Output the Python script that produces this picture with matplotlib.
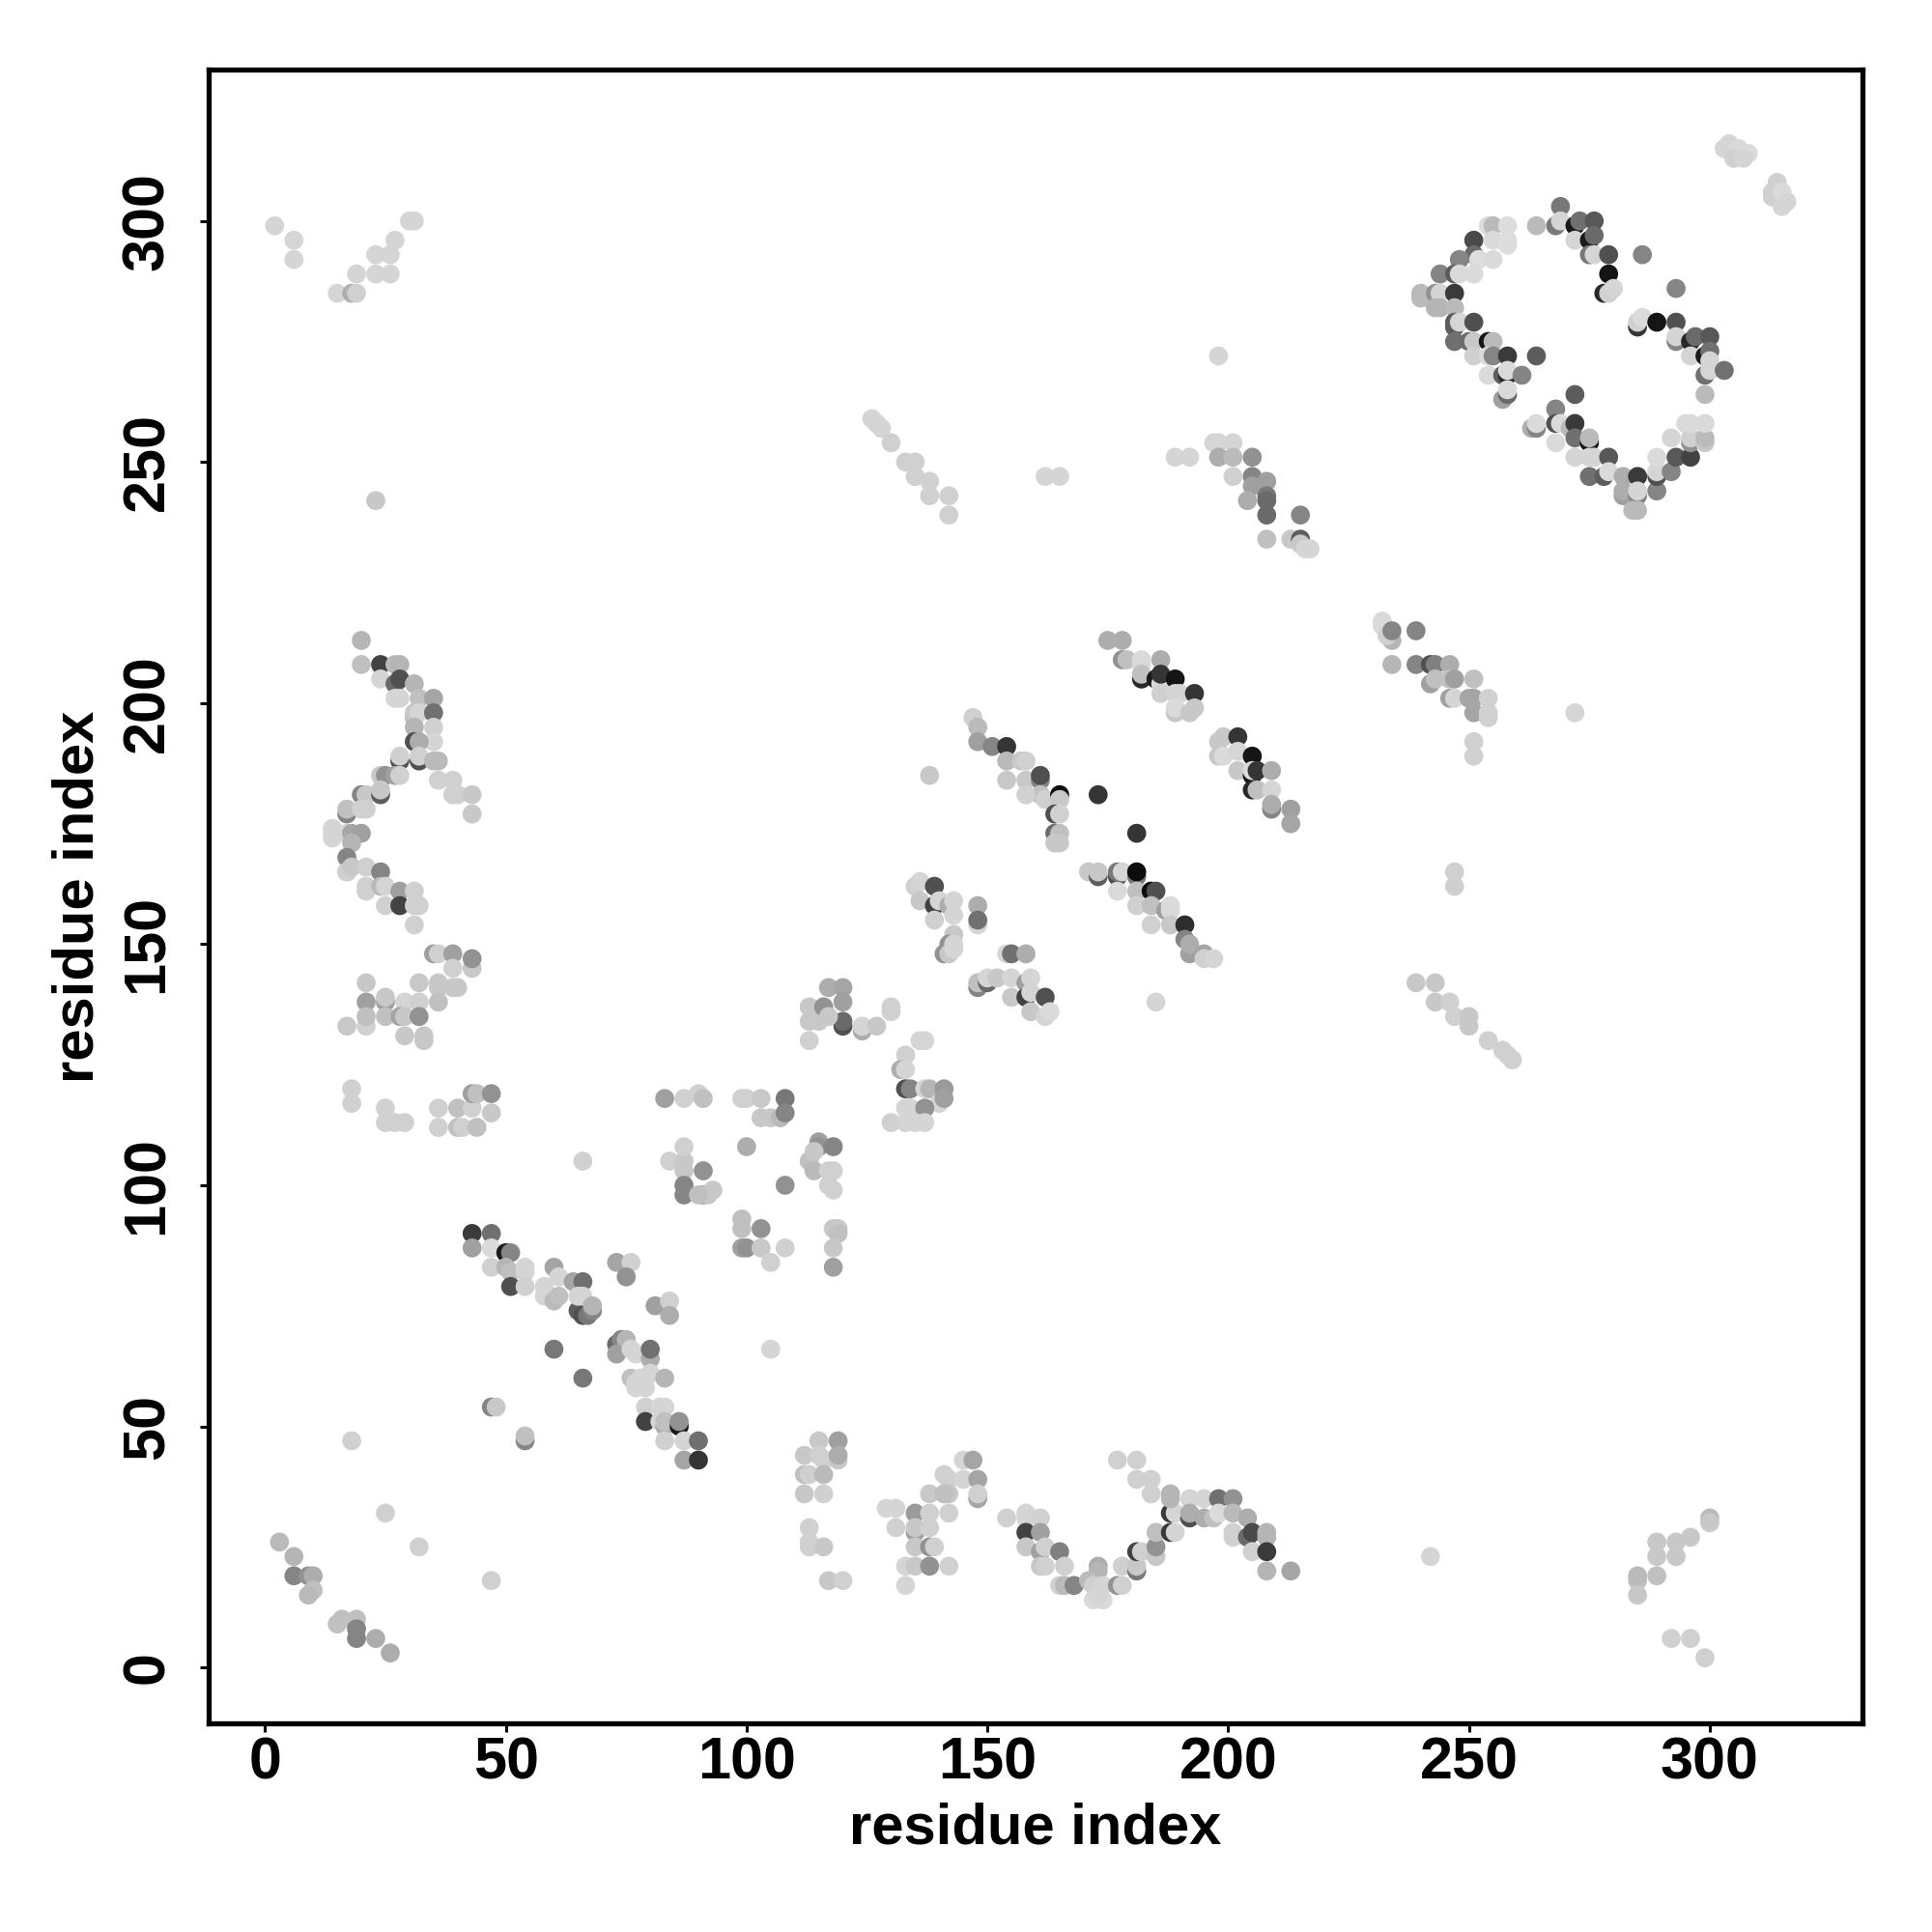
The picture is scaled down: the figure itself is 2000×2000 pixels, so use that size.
import matplotlib
matplotlib.use("Agg")
import matplotlib.pyplot as plt

plt.rcParams['font.family'] = ['Liberation Sans', 'DejaVu Sans']

# each point: residue i, residue j, grey level (0 black, 1 white)
corner = [(303,315,.8),(304,316,.8),(306,315,.82),(305,313,.78),(308,314,.82),(307,313,.8),
          (314,308,.78),(313,306,.78),(313,305,.78),(315,306,.82),(316,304,.8),(315,303,.8)]

ring_top = [(269,303,.45),(264,299,.7),(268,299,.45),(269,300,.8),(272,299,.1),(273,300,.42),(276,300,.33),
            (272,296,.8),(275,296,.1),(276,297,.4),(275,293,.45),(276,293,.8),(279,293,.3),(286,293,.5),
            (279,289,.08),(278,285,.15),(279,285,.78),(280,286,.8),(293,286,.5)]

ring_right = [(285,278,.2),(285,279,.78),(286,280,.82),(289,279,.08),(293,279,.3),(293,275,.5),(293,276,.8),
              (296,275,.15),(297,276,.4),(300,276,.33),(296,272,.8),(299,272,.1),(300,273,.42),(299,268,.42),
              (300,271,.8),(300,269,.8),(303,269,.42),(299,264,.7)]

ring_left = [(254,299,.83),(255,299,.7),(258,299,.83),(251,296,.28),(255,296,.82),(258,295,.83),(258,296,.83),
             (251,293,.4),(248,292,.5),(252,292,.83),(255,292,.82),(244,289,.5),(247,289,.35),(248,289,.82),
             (251,289,.82),(240,285,.7),(240,284,.7),(243,285,.55),(244,285,.8),(247,285,.22),(243,282,.68),
             (244,282,.68),(247,282,.7),(247,279,.35),(247,278,.35),(248,279,.8),(251,279,.3),(247,275,.42),
             (250,275,.4),(251,275,.75),(254,275,.08),(255,275,.7),(251,272,.78),(254,272,.82),(255,272,.5),
             (258,272,.22),(264,272,.35),(254,268,.82),(257,268,.35),(258,268,.15),(258,269,.82),(261,268,.5),
             (257,263,.6),(258,264,.4),(258,265,.82)]

ring_bottom = [(272,264,.35),(268,261,.5),(263,257,.65),(264,257,.5),(264,258,.82),(268,258,.3),(269,258,.82),
               (271,257,.7),(272,258,.22),(268,254,.82),(272,255,.42),(275,254,.08),(275,255,.7),(272,251,.8),
               (275,251,.8),(276,251,.8),(279,251,.33),(275,247,.42),(278,247,.35),(279,248,.82),(282,247,.65),
               (285,247,.22),(282,243,.6),(282,244,.65),(285,243,.5),(285,244,.8),(289,244,.5),(284,240,.7),
               (285,240,.7),(289,247,.3),(289,248,.8),(292,248,.5),(289,251,.82),(293,251,.33),(296,251,.25),
               (292,255,.8),(296,254,.55),(296,255,.78),(299,254,.75),(299,255,.7),(295,258,.82),(296,258,.82),
               (299,258,.82)]

diag_a = [(175,213,.65),(178,213,.65),(178,209,.55),(179,209,.72),(182,209,.82),(186,209,.65),(182,208,.82),
          (182,205,.15),(182,206,.72),(185,205,.1),(186,204,.82),(186,206,.2),(189,205,.08),(186,202,.78),
          (189,202,.8),(190,202,.8),(193,202,.2),(189,198,.75),(189,199,.82),(192,198,.75),(193,199,.75)]

diag_b = [(199,193,.75),(198,192,.75),(202,193,.2),(198,189,.75),(199,189,.82),(202,190,.8),(205,189,.08),
          (202,186,.75),(205,185,.08),(205,186,.82),(206,186,.2),(209,186,.65),(205,182,.15),(206,182,.72),
          (209,182,.8),(209,178,.5),(209,179,.65),(213,178,.6),(213,175,.62)]

diag_c = [(147,197,.78),(148,195,.7),(148,192,.6),(151,191,.5),(154,191,.2),(154,188,.7),(157,188,.75),
          (158,188,.78),(154,184,.75),(158,184,.75),(161,184,.5),(161,185,.3),(161,181,.72),(158,181,.78),
          (162,180,.78),(165,181,.05),(165,180,.75),(164,177,.3),(165,177,.78),(164,173,.4),(165,173,.72),
          (164,171,.75),(165,171,.75),(173,181,.2),(181,173,.2),(138,185,.75)]

diag_d = [(171,165,.75),(173,164,.35),(173,165,.75),(177,164,.3),(177,165,.45),(178,165,.8),(181,164,.45),
          (181,165,.05),(177,161,.82),(181,161,.72),(184,161,.05),(185,161,.3),(181,158,.78),(184,158,.72),
          (187,157,.6),(188,158,.82),(188,157,.82),(184,154,.78),(188,154,.75),(191,154,.17),(191,151,.5),
          (192,148,.6),(192,150,.65),(195,148,.62),(195,147,.78),(197,147,.8),(185,138,.8)]

upper_right = [(232,217,.82),(232,216,.82),(234,213,.68),(233,214,.78),(234,215,.5),(239,215,.5),(234,208,.68),
               (239,208,.5),(242,208,.3),(243,208,.48),(246,208,.65),(242,204,.6),(243,205,.72),(246,205,.72),
               (247,205,.6),(251,205,.72),(246,201,.6),(247,201,.8),(250,201,.62),(251,201,.62),(254,201,.78),
               (251,198,.62),(254,198,.78),(254,197,.78),(251,192,.78),(251,189,.78),(272,198,.8),
               (247,165,.78),(247,162,.78),(239,142,.75),(243,142,.75),(243,138,.75),(246,138,.78),(247,135,.78),
               (250,135,.75),(250,133,.75),(254,130,.78),(257,128,.78),(258,127,.78),(259,126,.78)]

upper_mid = [(198,272,.8),(189,251,.8),(192,251,.8),(197,254,.8),(198,254,.8),(201,254,.8),(198,251,.65),
             (201,251,.7),(205,251,.55),(201,247,.78),(205,247,.5),(205,245,.6),(208,246,.6),(204,242,.65),
             (208,243,.45),(208,242,.4),(208,239,.4),(215,239,.5),(208,234,.72),(213,234,.75),(215,234,.35),
             (215,233,.75),(217,232,.8),(216,232,.8),(162,247,.8),(165,247,.8)]

upper_line = [(126,259,.8),(127,258,.8),(128,257,.8),(130,254,.78),(133,250,.78),(135,250,.78),(135,247,.78),
              (138,246,.78),(138,243,.78),(142,243,.78),(142,239,.78)]

upper_left = [(2,299,.8),(6,296,.8),(6,292,.8),(15,285,.8),(18,285,.65),(19,285,.78),(19,289,.8),(23,293,.8),
              (23,289,.8),(26,293,.8),(26,289,.8),(27,296,.8),(30,300,.8),(31,300,.8),(23,242,.75)]

helix = [(20,213,.68),(20,208,.72),(24,208,.25),(27,208,.7),(28,208,.68),(24,205,.8),(27,204,.4),(28,205,.3),
         (31,204,.68),(27,201,.8),(28,201,.8),(32,201,.72),(35,201,.62),(31,197,.7),(31,198,.75),(32,198,.8),
         (35,198,.42),(35,195,.78),(31,195,.68),(35,192,.8),(31,192,.3),(32,192,.65),(28,188,.3),(28,189,.78),
         (32,188,.3),(32,189,.78),(35,188,.7),(36,188,.7),(36,184,.78),(39,184,.78),(39,181,.78),(40,181,.78),
         (43,181,.75),(43,177,.75),(24,185,.75),(25,185,.55),(27,185,.6),(28,185,.78),(20,181,.5),(21,181,.75),
         (24,181,.35),(24,182,.75),(17,177,.5),(17,178,.72),(21,178,.78),(20,178,.78),(14,174,.8),(14,173,.8),
         (14,172,.8),(17,173,.8),(18,173,.62),(20,173,.6),(18,171,.68),(17,168,.5),(17,165,.7),(17,165,.78),
         (18,166,.75),(21,166,.78),(24,165,.5),(21,162,.78),(21,161,.78),(24,162,.7),(25,162,.8),(28,161,.6),
         (31,161,.78),(25,158,.78),(28,158,.25),(31,158,.78),(32,158,.78),(31,154,.78)]

left_low = [(35,148,.6),(36,148,.78),(39,148,.6),(43,145,.75),(43,147,.55),(39,145,.78),(36,142,.75),(32,142,.75),
            (39,141,.75),(40,141,.75),(36,141,.75),(36,138,.72),(21,142,.75),(21,138,.6),(25,138,.6),(25,139,.75),
            (29,138,.8),(32,138,.78),(21,133,.78),(21,135,.72),(25,135,.72),(28,135,.62),(29,135,.75),(32,135,.55),
            (17,133,.75),(29,131,.75),(33,131,.75),(33,130,.75),
            (18,120,.78),(18,117,.78),(25,116,.78),(25,113,.78),(27,113,.78),(29,113,.78),(36,116,.78),(36,112,.78),
            (40,116,.72),(40,112,.72),(41,112,.78),(43,116,.78),(44,112,.72),(43,119,.6),(44,119,.72),(47,119,.55),
            (47,115,.75)]

corner_low = [(3,26,.7),(6,23,.68),(6,19,.5),(9,19,.55),(10,19,.65),(10,16,.72),(9,15,.7),(15,9,.72),(16,10,.72),
              (19,10,.72),(19,8,.5),(19,6,.5),(23,6,.65),(26,3,.65),(18,47,.78),(25,32,.78),(32,25,.78),(47,18,.78)]

anti_a = [(43,90,.22),(47,90,.42),(43,87,.6),(47,87,.82),(50,86,.1),(51,86,.5),(47,83,.78),(50,83,.68),(51,82,.72),
          (54,83,.8),(54,82,.8),(51,79,.3),(54,79,.78),(60,83,.62),(61,81,.8),(58,79,.8),(58,77,.8),(60,76,.7),
          (61,77,.72),(64,80,.62),(66,80,.42),(65,74,.35),(66,73,.3),(67,73,.45),(65,77,.8),(66,77,.8),(68,74,.5),
          (68,75,.68),(73,84,.62),(76,84,.78),(75,81,.55),(81,75,.6),(84,76,.78),(84,73,.65),(60,66,.45),(66,60,.45)]

anti_b = [(73,67,.4),(74,68,.5),(75,68,.68),(73,65,.6),(76,66,.8),(77,65,.8),(80,64,.65),(80,66,.42),(76,60,.72),
          (77,59,.8),(78,60,.8),(80,61,.8),(83,60,.68),(77,58,.8),(79,58,.8),(79,54,.78),(82,54,.8),(83,54,.8),
          (79,51,.25),(82,51,.8),(83,50,.65),(83,51,.72),(86,50,.1),(86,51,.55),(83,47,.78),(87,47,.8),(90,47,.42),
          (87,43,.62),(90,43,.2),(47,54,.5),(48,54,.75),(54,47,.5),(54,48,.72)]

mid_a = [(135,162,.78),(136,163,.8),(139,162,.3),(136,159,.75),(139,158,.25),(140,159,.8),(142,158,.65),(143,159,.8),
         (143,156,.8),(139,155,.78),(143,152,.75),(142,150,.55),(141,148,.55),(142,148,.75),(143,149,.8),(143,150,.8),
         (148,158,.65),(148,154,.8),(148,155,.42),(154,148,.8),(155,148,.42),(158,148,.65),(148,141,.5),(148,142,.72),
         (150,142,.4),(150,143,.8),(152,143,.75),(155,143,.8),(158,142,.6),(159,143,.8),(155,139,.75),(158,139,.25),
         (159,140,.8),(162,139,.3),(159,136,.75),(162,135,.8),(163,136,.82)]

mid_b = [(130,137,.78),(130,136,.78),(124,132,.65),(124,133,.8),(127,133,.75),(136,130,.8),(137,130,.8),(133,127,.78),
         (132,124,.65),(133,124,.8),(133,120,.3),(134,120,.5),(137,120,.8),(138,120,.68),(141,120,.58),(140,117,.8),
         (141,118,.6),(133,116,.8),(134,116,.8),(137,116,.55),(130,113,.78),(133,113,.8),(135,113,.8),(137,113,.8),
         (113,130,.78),(113,134,.75),(113,137,.75),(115,134,.75),(116,137,.55),(117,141,.65),(120,141,.62),(120,138,.6),
         (120,133,.3),(120,134,.4),(117,135,.75)]

mid_c = [(83,118,.6),(87,118,.78),(90,119,.78),(91,118,.72),(84,105,.78),(87,105,.75),(87,108,.78),(87,103,.75),
         (91,103,.55),(87,100,.5),(87,98,.5),(91,98,.55),(93,99,.75),(92,98,.75),(90,98,.72),(66,105,.78),
         (99,118,.78),(100,118,.78),(103,118,.75),(103,114,.75),(105,114,.75),(108,118,.45),(107,114,.7),(108,115,.5),
         (100,108,.65),(108,100,.55),(99,93,.72),(99,91,.72),(99,87,.6),(100,87,.55),(103,91,.55),(103,87,.75),
         (105,84,.78),(108,87,.78),(105,66,.8),(113,105,.72),(114,103,.7),(115,109,.6),(115,108,.55),(118,108,.5),
         (114,107,.75),(117,103,.78),(118,103,.78),(117,100,.78),(118,99,.78),(118,91,.75),(119,91,.75),(119,90,.72),
         (118,87,.75),(118,83,.6)]

low_a = [(115,47,.75),(119,47,.6),(112,44,.75),(115,44,.78),(116,43,.78),(119,43,.75),(119,44,.65),(112,40,.72),
         (113,40,.78),(116,40,.7),(112,36,.75),(116,36,.78),(113,29,.78),(113,26,.78),(113,25,.78),(116,25,.75),
         (117,18,.75),(120,18,.78)]

low_b = [(145,43,.8),(147,43,.62),(141,40,.78),(142,39,.78),(145,39,.8),(148,39,.62),(148,35,.62),(148,36,.78),
         (138,36,.75),(142,36,.75),(141,36,.72),(129,33,.8),(131,33,.8),(131,29,.78),(135,32,.58),(138,32,.78),
         (142,32,.78),(135,28,.6),(135,29,.75),(138,29,.78),(135,25,.75),(138,25,.55),(139,25,.78),(133,21,.8),
         (135,21,.75),(138,21,.55),(142,21,.78),(133,17,.8)]

low_c = [(154,31,.78),(158,32,.8),(158,31,.8),(161,31,.78),(158,28,.25),(161,28,.6),(158,25,.75),(161,24,.6),
         (162,25,.78),(165,24,.48),(161,21,.75),(162,21,.78),(166,21,.78),(165,17,.78),(166,17,.7),(168,17,.5),
         (173,21,.65),(173,20,.68),(171,18,.7),(172,17,.78),(174,17,.8),(172,14,.82),(174,14,.82),(173,15,.8),
         (177,17,.55),(178,17,.78),(178,21,.78),(181,20,.45),(181,21,.75)]

low_d = [(177,43,.78),(181,43,.78),(181,39,.78),(184,39,.78),(184,36,.78),(181,24,.25),(182,24,.78),(185,23,.75),
         (185,25,.55),(185,28,.72),(188,28,.22),(189,28,.8),(188,32,.22),(189,32,.8),(188,36,.68),(188,35,.68),
         (192,35,.8),(192,31,.3),(192,32,.65),(195,35,.8),(198,35,.42),(201,35,.55),(195,31,.65),(197,31,.72),
         (198,32,.82),(201,32,.7),(204,31,.65),(201,28,.78),(201,27,.78),(204,27,.4),(205,28,.28),(208,27,.68),
         (208,28,.68),(205,24,.78),(208,24,.22),(208,20,.68),(213,20,.62)]

low_right = [(242,23,.8),(285,18,.72),(285,19,.7),(285,15,.75),(289,19,.72),(289,23,.75),(289,26,.75),(293,23,.75),
             (293,26,.75),(296,27,.75),(300,31,.7),(300,30,.75),(292,6,.78),(296,6,.78),(299,2,.78)]

clusters = [corner, ring_top, ring_right, ring_left, ring_bottom, diag_a, diag_b, diag_c, diag_d, upper_right,
            upper_mid, upper_line, upper_left, helix, left_low, corner_low, anti_a, anti_b, mid_a, mid_b, mid_c,
            low_a, low_b, low_c, low_d, low_right]

ticks = [0, 50, 100, 150, 200, 250, 300]

fig = plt.figure(figsize=(10, 10), dpi=200)
ax = fig.add_axes([216/2000, 216/2000, 1712/2000, 1712/2000])

# plotted cluster by cluster, in listed order, so overlaps stay as read
for c in clusters:
    xs = [p[0] for p in c]
    ys = [p[1] for p in c]
    gs = [p[2] for p in c]
    ax.scatter(xs, ys, c=gs, cmap='gray', vmin=0, vmax=0.96, s=50, linewidths=0, zorder=2)

ax.set_xlim(-11.7, 331.7)
ax.set_ylim(-11.6, 331.4)
ax.set_xticks(ticks)
ax.set_yticks(ticks)
ax.tick_params(length=3.4, width=1.1, labelsize=22)
ax.tick_params(axis='x', pad=1.5)
ax.tick_params(axis='y', pad=8.8)
for lab in ax.get_xticklabels() + ax.get_yticklabels():
    lab.set_fontweight('bold')
for lab in ax.get_yticklabels():
    lab.set_rotation(90)
    lab.set_va('center')
for s in ax.spines.values():
    s.set_linewidth(1.9)
ax.set_xlabel('residue index', fontsize=21.5, fontweight='bold', va='center')
ax.set_ylabel('residue index', fontsize=21.5, fontweight='bold', va='center')
ax.xaxis.set_label_coords(0.5, -0.0635)
ax.yaxis.set_label_coords(-0.079, 0.5)

plt.savefig('out.png', dpi=200)
